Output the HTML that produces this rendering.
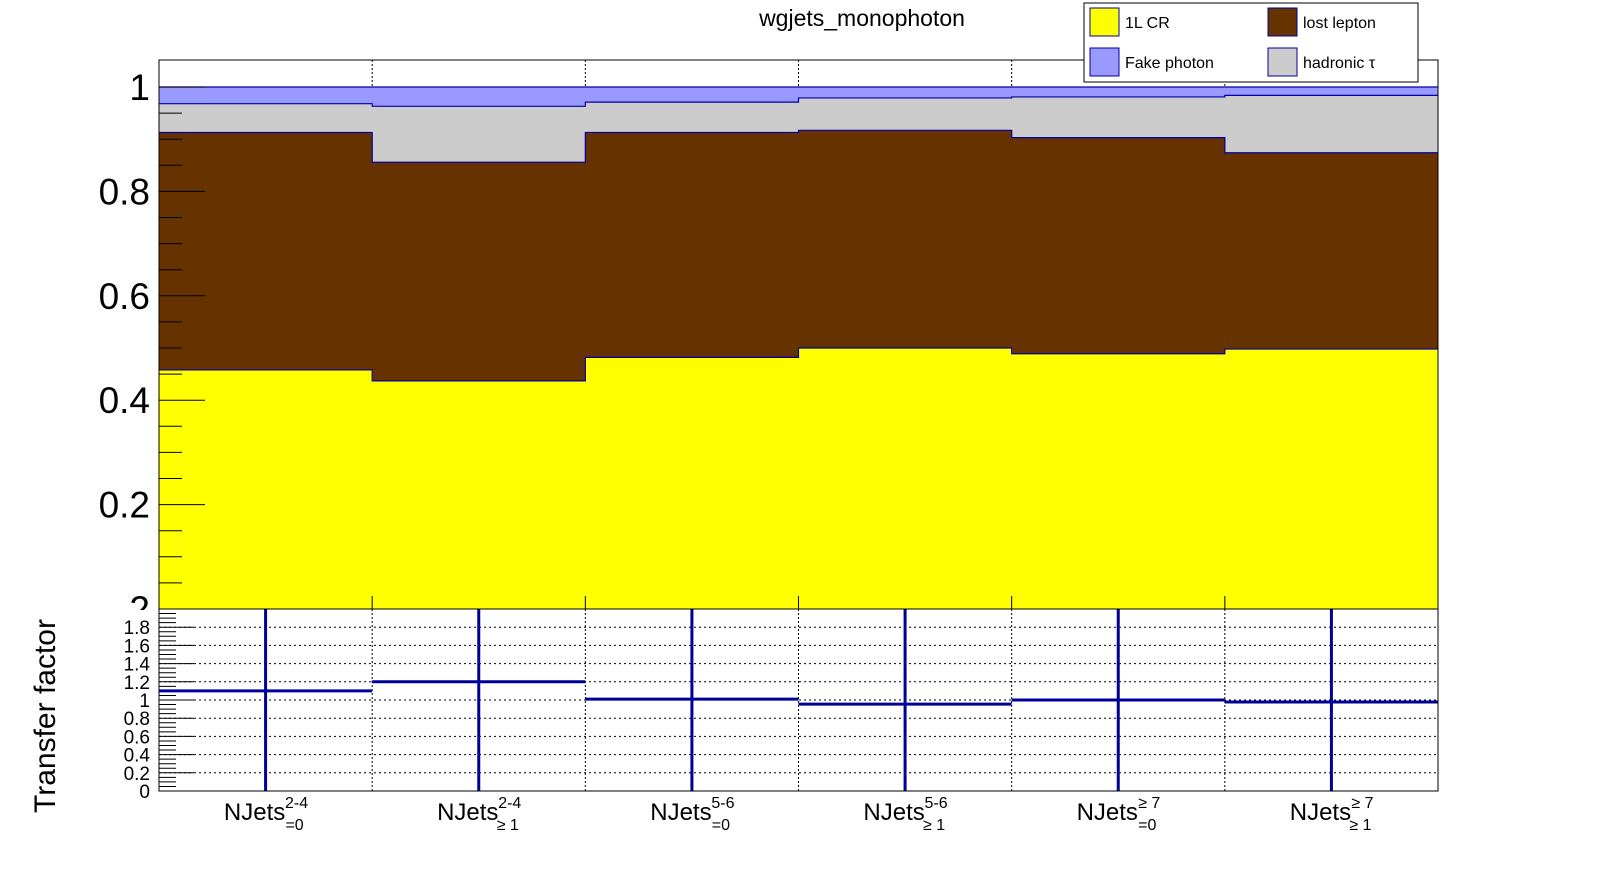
<!DOCTYPE html>
<html><head><meta charset="utf-8"><style>
html,body{margin:0;padding:0;background:#fff;}
svg{display:block;font-family:"Liberation Sans",sans-serif;}
</style></head><body>
<svg id="c" width="1598" height="871" viewBox="0 0 1598 871" xmlns="http://www.w3.org/2000/svg"></svg>
<script>
const categories = ["2-4|=0","2-4|≥ 1","5-6|=0","5-6|≥ 1","≥ 7|=0","≥ 7|≥ 1"];
const oneLCR = [0.458,0.437,0.482,0.500,0.489,0.498];
const lostLepton = [0.913,0.856,0.913,0.917,0.903,0.874];   // cumulative top
const hadronicTau = [0.968,0.963,0.971,0.979,0.981,0.984];  // cumulative top
const fakePhoton = [1,1,1,1,1,1];                           // cumulative top
const transferFactor = [1.10,1.20,1.01,0.955,1.00,0.978];
const topTicks = [0.2,0.4,0.6,0.8,1];
const botTicks = [0,0.2,0.4,0.6,0.8,1,1.2,1.4,1.6,1.8];

const NS="http://www.w3.org/2000/svg";
const svg=document.getElementById('c');
function el(t,a,p){const e=document.createElementNS(NS,t);for(const k in a)e.setAttribute(k,a[k]);(p||svg).appendChild(e);return e;}
const X0=159,X1=1438,n=categories.length,bw=(X1-X0)/n;
const xb=i=>X0+i*bw;
const T0=609,Tunit=522,TTOP=60;
const yT=v=>T0-v*Tunit;
const B0=791,B2=609;
const yB=v=>B0-v*(B0-B2)/2;

// title
let t=el('text',{x:862,y:26,'font-size':23,'text-anchor':'middle',fill:'#000'});t.textContent='wgjets_monophoton';


// top stack
const layers=[[fakePhoton,'#9999ff','fake-photon'],[hadronicTau,'#cccccc','hadronic-tau'],[lostLepton,'#663300','lost-lepton'],[oneLCR,'#ffff00','1l-cr']];
layers.forEach(([arr,col,nm])=>{
  arr.forEach((v,i)=>{
    const r=el('rect',{x:xb(i),y:yT(v),width:bw+0.5,height:T0-yT(v),fill:col});
    
    
  });
  let d='M'+X0+' '+yT(arr[0]);
  arr.forEach((v,i)=>{d+=' L'+xb(i)+' '+yT(v)+' L'+xb(i+1)+' '+yT(v);});
  const p=el('path',{d:d,fill:'none',stroke:'#0000aa','stroke-width':1.2});
  
});
for(let i=1;i<n;i++){el('line',{x1:xb(i),x2:xb(i),y1:TTOP,y2:yT(fakePhoton[i]),stroke:'#000','stroke-dasharray':'2,2','stroke-width':1});
 el('line',{x1:xb(i),x2:xb(i),y1:T0,y2:T0-13,stroke:'#000'});}
const f1=el('rect',{x:X0,y:TTOP,width:X1-X0,height:T0-TTOP,fill:'none',stroke:'#000','stroke-width':1});

for(let k=1;k<=20;k++){const v=k*0.05;el('line',{x1:X0,x2:X0+(k%4==0?46:23),y1:yT(v),y2:yT(v),stroke:'#000'});}
topTicks.forEach(v=>{const tx=el('text',{x:150,y:yT(v)+13,'font-size':37,'text-anchor':'end'});tx.textContent=String(v);
 });
const z=el('text',{x:150,y:T0+13,'font-size':37,'text-anchor':'end'});z.textContent='2';
el('rect',{x:60,y:T0+1,width:98,height:40,fill:'#fff'});

// bottom pad
botTicks.forEach(v=>{if(v>0)el('line',{x1:X0,x2:X1,y1:yB(v),y2:yB(v),stroke:'#000','stroke-dasharray':'2,3','stroke-width':1});});
for(let i=1;i<n;i++)el('line',{x1:xb(i),x2:xb(i),y1:B2,y2:B0,stroke:'#000','stroke-dasharray':'2,2'});
for(let k=1;k<40;k++){const v=k*0.05;el('line',{x1:X0,x2:X0+(k%4==0?35:17),y1:yB(v),y2:yB(v),stroke:'#000'});}
transferFactor.forEach((v,i)=>{
  const h=el('line',{x1:xb(i),x2:xb(i+1),y1:yB(v),y2:yB(v),stroke:'#000099','stroke-width':3});
  
  const e=el('line',{x1:xb(i)+bw/2,x2:xb(i)+bw/2,y1:B2,y2:B0,stroke:'#000099','stroke-width':3});
  
});
const f2=el('rect',{x:X0,y:B2,width:X1-X0,height:B0-B2,fill:'none',stroke:'#000','stroke-width':1});

botTicks.forEach(v=>{const tx=el('text',{x:150,y:yB(v)+7,'font-size':19,'text-anchor':'end'});tx.textContent=String(v);
 });
const yt=el('text',{x:0,y:0,'font-size':30,'text-anchor':'middle',transform:'translate(55,716) rotate(-90)'});yt.textContent='Transfer factor';


// x labels
categories.forEach((c,i)=>{const [sup,sub]=c.split('|');const cx=xb(i)+bw/2;
 const g=el('text',{x:cx-11,y:820,'font-size':24,'text-anchor':'middle'});
 
 g.textContent='NJets';
 const s1=el('tspan',{x:cx+31,y:808,'font-size':16,'text-anchor':'middle'},g);s1.textContent=sup;
 const s2=el('tspan',{x:cx+29,y:830,'font-size':16,'text-anchor':'middle'},g);s2.textContent=sub;
});

// legend
const lg=el('g',{});
el('rect',{x:1084,y:3,width:334,height:79,fill:'#fff',stroke:'#000'},lg);
[[1090,8,'#ffff00','1L CR'],[1268,8,'#663300','lost lepton'],[1090,48,'#9999ff','Fake photon'],[1268,48,'#cccccc','hadronic τ']].forEach(([x,y,c,l])=>{
 const g=el('g',{},lg);
 el('rect',{x:x,y:y,width:29,height:28,fill:c,stroke:'#000099'},g);
 const tx=el('text',{x:x+35,y:y+20,'font-size':16},g);tx.textContent=l;
});
</script>
</body></html>
